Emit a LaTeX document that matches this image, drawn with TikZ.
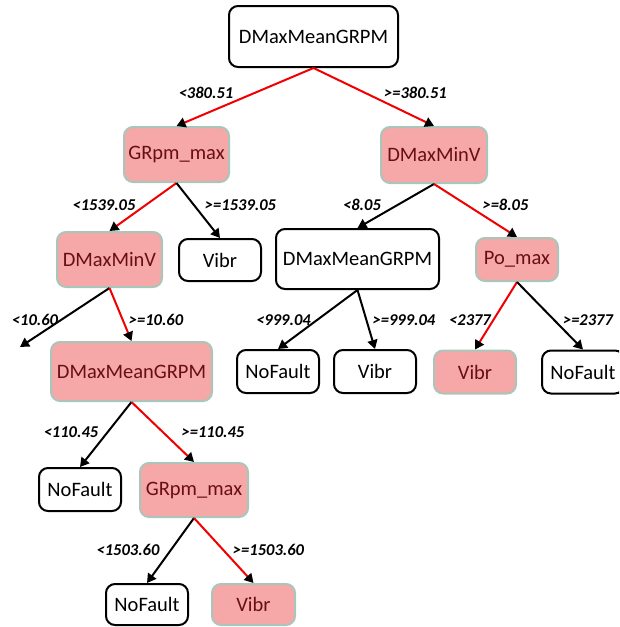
\documentclass[tikz,border=0pt]{standalone}
\usepackage{fontspec}
\setmainfont{Carlito}
\usetikzlibrary{arrows.meta}
\definecolor{hitfill}{RGB}{246,167,167}
\definecolor{hitline}{RGB}{170,198,186}
\definecolor{hittext}{RGB}{105,14,22}
\definecolor{pathred}{RGB}{240,0,0}

\begin{document}
\begin{tikzpicture}[x=1pt,y=-1pt,
  box/.style={rectangle, rounded corners=9pt, draw=black, line width=2pt,
    fill=white, inner sep=0pt, text=black, font=\fontsize{20.5}{24}\selectfont},
  hit/.style={box, draw=hitline, fill=hitfill, text=hittext},
  sz/.style 2 args={minimum width=#1pt, minimum height=#2pt},
  lbl/.style={inner sep=0pt, font=\fontsize{16.5}{18}\selectfont\bfseries\itshape},
  edge/.style={line width=2pt, draw=black, -{Triangle[length=9pt,width=10pt]}},
  onpath/.style={line width=2pt, draw=pathred, -{Triangle[length=9pt,width=10pt,color=black]}}
]
\useasboundingbox (0,0) rectangle (619,627);
\clip (0,0) rectangle (619,627);

% decision and leaf nodes
\node[box, sz={169}{61}] (root) at (313.5,36.5) {DMaxMeanGRPM};
\node[hit, sz={105}{55}] (gr1) at (176.5,154.5) {GRpm\_max};
\node[hit, sz={106}{56}] (mv1) at (434,155) {DMaxMinV};
\node[hit, sz={105}{55}] (mv2) at (109.5,259.5) {DMaxMinV};
\node[box, sz={82}{42}] (vb1) at (220,260) {Vibr};
\node[box, sz={163}{60}] (mg2) at (357.5,259) {DMaxMeanGRPM};
\node[hit, sz={82}{43}] (po) at (517,259.5) {Po\_max};
\node[hit, sz={161}{59}] (mg3) at (131.5,371.5) {DMaxMeanGRPM};
\node[box, sz={82}{43}] (nf1) at (278,371.5) {NoFault};
\node[box, sz={82}{43}] (vb2) at (375,371.5) {Vibr};
\node[hit, sz={82}{43}] (vb3) at (475,372) {Vibr};
\node[box, sz={82}{43}] (nf2) at (583,372) {NoFault};
\node[box, sz={82}{43}] (nf3) at (80,489.5) {NoFault};
\node[hit, sz={108}{54}] (gr2) at (194,490) {GRpm\_max};
\node[box, sz={82}{41}] (nf4) at (147,604.5) {NoFault};
\node[hit, sz={83}{41}] (vb4) at (253.5,604.5) {Vibr};
\coordinate (loose) at (20,347);

% branches
\draw[onpath] (root.south) -- (gr1.north);
\draw[onpath] (root.south) -- (mv1.north);
\draw[onpath] (gr1.south) -- (mv2.north);
\draw[edge] (gr1.south) -- (vb1.north);
\draw[edge] (mv1.south) -- (mg2.north);
\draw[onpath] (mv1.south) -- (po.north);
\draw[edge] (mv2.south) -- (loose);
\draw[onpath] (mv2.south) -- (mg3.north);
\draw[edge] (mg2.south) -- (nf1.north);
\draw[edge] (mg2.south) -- (vb2.north);
\draw[onpath] (po.south) -- (vb3.north);
\draw[edge] (po.south) -- (nf2.north);
\draw[edge] (mg3.south) -- (nf3.north);
\draw[onpath] (mg3.south) -- (gr2.north);
\draw[edge] (gr2.south) -- (nf4.north);
\draw[onpath] (gr2.south) -- (vb4.north);

% split thresholds
\node[lbl] (t1) at (206,93) {<380.51};
\node[lbl] (t2) at (415.5,93) {>=380.51};
\node[lbl] (t3) at (104,205) {<1539.05};
\node[lbl] (t4) at (240.5,205) {>=1539.05};
\node[lbl] (t5) at (362,205) {<8.05};
\node[lbl] (t6) at (505.5,205) {>=8.05};
\node[lbl] (t7) at (35,320) {<10.60};
\node[lbl] (t8) at (156,320) {>=10.60};
\node[lbl] (t9) at (283.5,320) {<999.04};
\node[lbl] (t10) at (404,320) {>=999.04};
\node[lbl] (t11) at (470,320) {<2377};
\node[lbl] (t12) at (588,320) {>=2377};
\node[lbl] (t13) at (71,432) {<110.45};
\node[lbl] (t14) at (213,432) {>=110.45};
\node[lbl] (t15) at (128,550) {<1503.60};
\node[lbl] (t16) at (268.5,550) {>=1503.60};
\end{tikzpicture}
\end{document}
